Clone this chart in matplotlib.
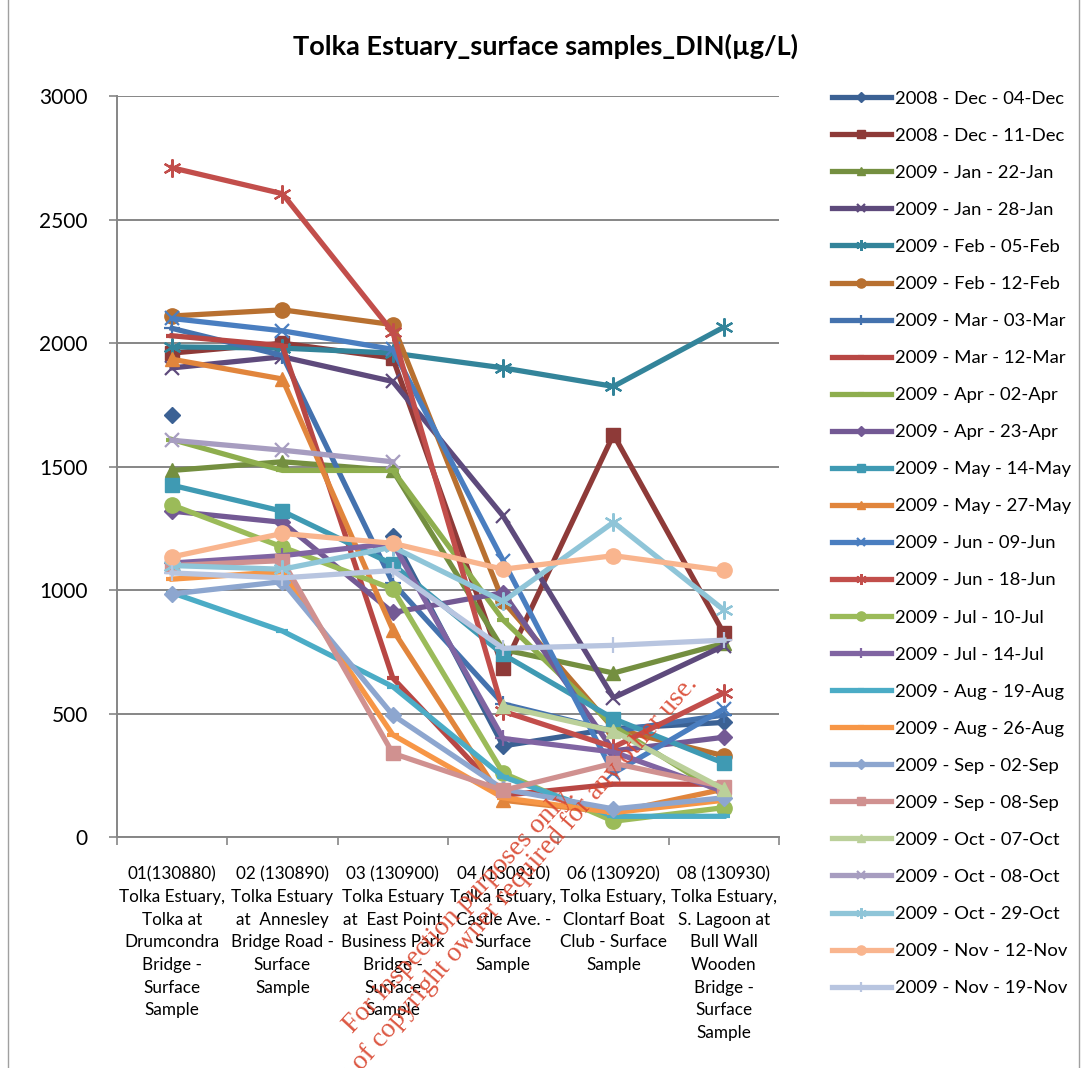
import numpy as np
import matplotlib.pyplot as plt
from matplotlib.patches import Rectangle

plt.rcParams['font.family'] = ['Lato', 'DejaVu Sans']

nan = np.nan

# sampling stations (x categories)
stations = [
    "01(130880)\nTolka Estuary,\nTolka at\nDrumcondra\nBridge -\nSurface\nSample",
    "02 (130890)\nTolka Estuary\nat  Annesley\nBridge Road -\nSurface\nSample",
    "03 (130900)\nTolka Estuary\nat  East Point\nBusiness Park\nBridge -\nSurface\nSample",
    "04 (130910)\nTolka Estuary,\nCastle Ave. -\nSurface\nSample",
    "06 (130920)\nTolka Estuary,\nClontarf Boat\nClub - Surface\nSample",
    "08 (130930)\nTolka Estuary,\nS. Lagoon at\nBull Wall\nWooden\nBridge -\nSurface\nSample",
]

# DIN (ug/L) per sampling date
dec04 = [1710, nan, 1220, 370, 440, 465]
dec11 = [1960, 2000, 1940, 685, 1630, 825]
jan22 = [1485, 1520, 1485, 760, 665, 785]
jan28 = [1900, 1945, 1845, 1300, 565, 775]
feb05 = [1985, 1980, 1960, 1900, 1825, 2065]
feb12 = [2110, 2135, 2075, 955, 440, 330]
mar03 = [2060, 1950, 1030, 540, 430, 495]
mar12 = [2030, 1990, 645, 170, 215, 215]
apr02 = [1610, 1485, 1485, 880, 450, 170]
apr23 = [1320, 1275, 910, 990, 350, 405]
may14 = [1425, 1320, 1105, 740, 480, 300]
may27 = [1935, 1855, 840, 150, 100, 195]
jun09 = [2100, 2050, 1975, 1120, 260, 520]
jun18 = [2710, 2605, 2045, 510, 365, 585]
jul10 = [1345, 1175, 1005, 260, 65, 120]
jul14 = [1110, 1140, 1190, 400, 345, 185]
aug19 = [990, 835, 610, 245, 85, 85]
aug26 = [1045, 1075, 415, 160, 100, 150]
sep02 = [985, 1035, 495, 195, 115, 160]
sep08 = [1100, 1120, 340, 190, 300, 205]
oct07 = [nan, nan, nan, 530, 430, 195]
oct08 = [1607, 1567, 1520, nan, nan, nan]
oct29 = [1100, 1085, 1175, 955, 1275, 920]
nov12 = [1135, 1230, 1190, 1085, 1140, 1080]
nov19 = [1070, 1050, 1080, 765, 777, 798]

labels = ["2008 - Dec - 04-Dec", "2008 - Dec - 11-Dec", "2009 - Jan - 22-Jan",
          "2009 - Jan - 28-Jan", "2009 - Feb - 05-Feb", "2009 - Feb - 12-Feb",
          "2009 - Mar - 03-Mar", "2009 - Mar - 12-Mar", "2009 - Apr - 02-Apr",
          "2009 - Apr - 23-Apr", "2009 - May - 14-May", "2009 - May - 27-May",
          "2009 - Jun - 09-Jun", "2009 - Jun - 18-Jun", "2009 - Jul - 10-Jul",
          "2009 - Jul - 14-Jul", "2009 - Aug - 19-Aug", "2009 - Aug - 26-Aug",
          "2009 - Sep - 02-Sep", "2009 - Sep - 08-Sep", "2009 - Oct - 07-Oct",
          "2009 - Oct - 08-Oct", "2009 - Oct - 29-Oct", "2009 - Nov - 12-Nov",
          "2009 - Nov - 19-Nov"]
series = [dec04, dec11, jan22, jan28, feb05, feb12, mar03, mar12, apr02,
          apr23, may14, may27, jun09, jun18, jul10, jul14, aug19, aug26,
          sep02, sep08, oct07, oct08, oct29, nov12, nov19]

colors = ['#3B6194', '#8E3A38', '#748F40', '#5E4A7C', '#33849A', '#B87030',
          '#4472AE', '#B84744', '#8EAE4E', '#735994', '#3F9AB3', '#E1853C',
          '#4A7EC0', '#C24E4B', '#9BBB59', '#8064A2', '#4BACC6', '#F79646',
          '#8DA6CF', '#D09190', '#BBD09A', '#A79DC0', '#8FC5D8', '#F9B58E',
          '#B8C5E0']

# excel marker cycle: diamond, square, triangle, x, star, circle, plus, dash, dash
mk_cycle = [('D', 8.5, 1), ('s', 10, 1), ('^', 10, 1), ('x', 10, 1.6),
            ((6, 2, 0), 13, 1.6), ('o', 11, 1), ('+', 11, 1.6), ('_', 8, 3),
            ('_', 8, 3)]

fig = plt.figure(figsize=(10.82, 10.68), dpi=100)
ax = fig.add_axes([0.108, 0.216, 0.612, 0.694])

x = np.arange(len(stations))
for i, (vals, lab, c) in enumerate(zip(series, labels, colors)):
    m, ms, mew = mk_cycle[i % 9]
    ax.plot(x, vals, color=c, lw=3.8, marker=m, markersize=ms,
            markeredgewidth=mew, markerfacecolor=c, markeredgecolor=c,
            label=lab, solid_joinstyle='round')

ax.set_xlim(-0.5, 5.5)
ax.set_ylim(0, 3000)
ax.set_yticks(range(0, 3001, 500))
ax.set_xticks(x)
ax.set_xticklabels(stations, fontsize=12.3, linespacing=1.51, va='top')
ax.set_xticks(np.arange(-0.5, 6, 1), minor=True)
ax.tick_params(axis='x', which='major', length=0, pad=21)
ax.tick_params(axis='x', which='minor', length=6, width=1.2, color='#868686')
ax.tick_params(axis='y', length=6, width=1.2, color='#868686', labelsize=15, pad=15)
ax.grid(axis='y', color='#868686', lw=1.4)
ax.set_axisbelow(True)
for s in ['top', 'right']:
    ax.spines[s].set_visible(False)
for s in ['left', 'bottom']:
    ax.spines[s].set_color('#868686')
    ax.spines[s].set_linewidth(1.4)

fig.text(0.504, 0.957, 'Tolka Estuary_surface samples_DIN(µg/L)', ha='center',
         va='center', fontsize=19.5, fontweight='bold')

fig.legend(loc='upper left', bbox_to_anchor=(0.762, 0.922), frameon=False,
           fontsize=13.3, handlelength=3.2, labelspacing=1.14, markerscale=0.6,
           handletextpad=0.2, borderaxespad=0)

# chart-area border
fig.patches.append(Rectangle((0.007, -0.01), 0.99, 1.02, transform=fig.transFigure,
                             fill=False, edgecolor='#A0A0A0', lw=1))

# watermark
fig.text(0.326, 0.032, 'For inspection purposes only.', rotation=47,
         rotation_mode='anchor', ha='left', va='baseline', fontsize=20,
         family='Liberation Serif', color='#D9452E', alpha=0.9)
fig.text(0.275, -0.072, 'Consent of copyright owner required for any other use.',
         rotation=49, rotation_mode='anchor', ha='left', va='baseline',
         fontsize=20, family='Liberation Serif', color='#D9452E', alpha=0.9)

fig.savefig('out.png', dpi=100)
